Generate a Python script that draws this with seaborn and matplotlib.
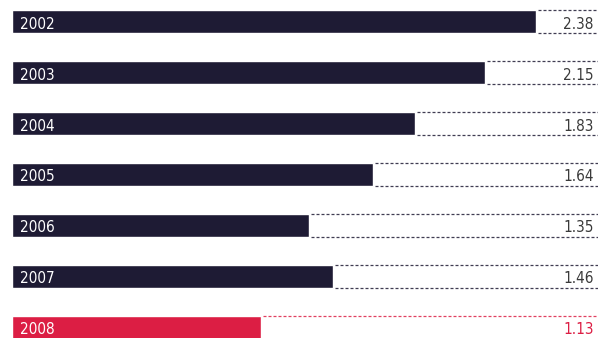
import matplotlib
matplotlib.use("Agg")
import matplotlib.pyplot as plt
import seaborn as sns
import pandas as pd
from matplotlib import font_manager

years = ["2002", "2003", "2004", "2005", "2006", "2007", "2008"]
values = [2.38, 2.15, 1.83, 1.64, 1.35, 1.46, 1.13]
value_labels = ["2.38", "2.15", "1.83", "1.64", "1.35", "1.46", "1.13"]

DARK = "#1e1b34"
RED = "#dc1e44"
colors = [DARK] * 6 + [RED]
text_colors = ["#3a3a3a"] * 6 + [RED]

sns.set_style("white")
names = sorted({f.name + "|" + str(f.stretch) for f in font_manager.fontManager.ttflist})
print(names)
plt.rcParams["font.family"] = ["DejaVu Sans"]

df = pd.DataFrame({"year": years, "value": values})

fig = plt.figure(figsize=(5.98, 3.38), dpi=100)
ax = fig.add_axes([12 / 598, 0, 586 / 598, 1])

sns.barplot(data=df, y="year", x="value", hue="year", orient="h",
            palette=dict(zip(years, colors)), width=0.45, legend=False,
            saturation=1, ax=ax)

XMAX = 2.664
half = 0.225
for i, (v, c, tc, lab, yr) in enumerate(zip(values, colors, text_colors, value_labels, years)):
    for yy in (i - half, i + half):
        ax.hlines(yy, v + 0.01, XMAX, colors=c, linestyles=(0, (2.4, 1.6)),
                  linewidth=0.9, alpha=0.85)
    ax.text(XMAX - 0.02, i + 0.13, lab, ha="right", va="baseline",
            fontsize=11, color=tc, fontstretch="condensed")
    ax.text(0.035, i + 0.13, yr, ha="left", va="baseline",
            fontsize=11, color="white", fontstretch="condensed")

ax.set_xlim(0, XMAX)
ax.set_ylim(6.2, -0.43)
ax.axis("off")

fig.savefig("out.png", dpi=100)
